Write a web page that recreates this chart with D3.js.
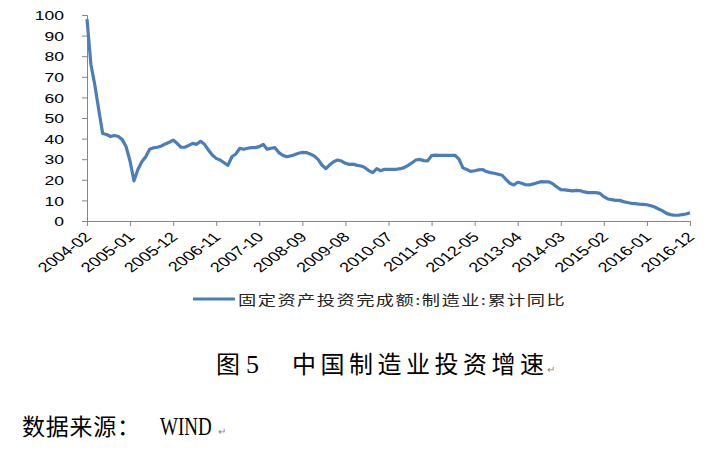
<!DOCTYPE html>
<html>
<head>
<meta charset="utf-8">
<script src="https://d3js.org/d3.v7.min.js"></script>
<style>
  body { margin: 0; background: #fff; }
</style>
</head>
<body>
<div id="my_dataviz"></div>
<script>
// 固定资产投资完成额:制造业:累计同比 (%), monthly 2004-02 .. 2016-12
var growth = [
    98, 76, 66, 54, 42.5, 42, 41, 41.5, 41, 39.5, 36, 29,
    19.5, 25, 28.8, 31.2, 34.8, 35.5, 35.8, 36.4, 37.4, 38.2, 39.3, 37.7,
    35.8, 35.8, 36.7, 37.7, 37.2, 38.7, 37.2, 34.5, 32, 30.4, 29.6, 28.3,
    27, 31.2, 32.5, 35.3, 34.8, 35.3, 35.6, 35.6, 36.1, 37.2, 34.8, 35.3,
    35.6, 33.2, 31.9, 31.2, 31.6, 32.2, 32.9, 33.3, 33.2, 32.5, 31.6, 29.9,
    27.2, 25.4, 27.3, 28.8, 29.6, 29.1, 28, 27.5, 27.6, 27, 26.7, 25.9,
    24.4, 23.5, 25.4, 24.4, 25.1, 25.1, 25.1, 25.1, 25.4, 25.9, 27, 28.3,
    29.6, 29.9, 29.3, 29.2, 31.7, 32, 31.9, 31.9, 31.9, 31.9, 31.9, 30,
    25.8, 25, 24.1, 24.4, 24.8, 25, 24, 23.5, 23.2, 22.7, 22.2, 20.2,
    18.3, 17.5, 18.8, 18.3, 17.6, 17.5, 18, 18.6, 19.1, 19, 19, 18,
    16.5, 15.2, 15.1, 14.9, 14.6, 14.9, 14.7, 14.1, 13.8, 13.8, 13.8, 13.4,
    11.8, 10.7, 10.4, 10, 10, 9.4, 9, 8.6, 8.4, 8.2, 8.1, 7.9,
    7.4, 6.8, 5.8, 4.9, 3.7, 3.1, 2.8, 2.8, 3.1, 3.4, 4.0
];

var tickLabels = ["2004-02", "2005-01", "2005-12", "2006-11", "2007-10", "2008-09",
    "2009-08", "2010-07", "2011-06", "2012-05", "2013-04", "2014-03",
    "2015-02", "2016-01", "2016-12"];

var yTicks = [0, 10, 20, 30, 40, 50, 60, 70, 80, 90, 100];

var seriesName = "固定资产投资完成额:制造业:累计同比";

// month labels for every point
var months = [];
for (var i = 0; i < growth.length; i++) {
    var m = 1 + i; // 2004-02 is index 0
    var yr = 2004 + Math.floor(m / 12);
    var mo = (m % 12) + 1;
    months.push(yr + "-" + (mo < 10 ? "0" + mo : mo));
}

var W = 716, H = 452;
var sx = 1.35; // chart picture is stretched sideways

var svg = d3.select("#my_dataviz")
    .append("svg")
    .attr("width", W)
    .attr("height", H);

// scales
var x = d3.scalePoint()
    .domain(months)
    .range([87, 690]);

var y = d3.scaleLinear()
    .domain([0, 100])
    .range([221, 15]);

var axisColor = "#868686";
var sans = "'Liberation Sans', Arial, sans-serif";
var serif = "'Liberation Serif', serif";
var cjk = "'Noto Sans CJK SC', sans-serif";

// Y axis
var yAxis = svg.append("g")
    .attr("transform", "translate(87,0)")
    .call(d3.axisLeft(y).tickValues(yTicks).tickSize(5).tickPadding(0));
yAxis.select(".domain").attr("stroke", axisColor);
yAxis.selectAll(".tick line").attr("stroke", axisColor);
yAxis.selectAll(".tick text")
    .attr("x", null)
    .attr("dy", null)
    .attr("dominant-baseline", "central")
    .attr("text-anchor", "end")
    .attr("font-family", sans)
    .attr("font-size", 13)
    .attr("fill", "#000")
    .attr("transform", "translate(-23,0) scale(" + sx + ",1)");

// X axis
var xAxis = svg.append("g")
    .attr("transform", "translate(0," + y(0) + ")")
    .call(d3.axisBottom(x)
        .tickValues(tickLabels)
        .tickSize(5)
        .tickSizeOuter(0));
xAxis.select(".domain").attr("stroke", axisColor);
xAxis.selectAll(".tick line").attr("stroke", axisColor);
xAxis.selectAll(".tick text")
    .attr("x", null)
    .attr("y", null)
    .attr("dy", null)
    .attr("text-anchor", "end")
    .attr("font-family", sans)
    .attr("font-size", 13.5)
    .attr("fill", "#000")
    .attr("transform", "translate(5,17) scale(" + sx + ",1) rotate(-45)");

// the line
var line = d3.line()
    .x(function (d, i) { return x(months[i]); })
    .y(function (d) { return y(d); });

svg.append("path")
    .datum(growth)
    .attr("fill", "none")
    .attr("stroke", "#4A7EBB")
    .attr("stroke-width", 3.2)
    .attr("stroke-linejoin", "round")
    .attr("d", line);

// legend
svg.append("line")
    .attr("x1", 193)
    .attr("x2", 235)
    .attr("y1", 299)
    .attr("y2", 299)
    .attr("stroke", "#4A7EBB")
    .attr("stroke-width", 3);

svg.append("text")
    .attr("transform", "translate(238,299) scale(" + sx + ",1)")
    .attr("dominant-baseline", "central")
    .attr("font-family", cjk)
    .attr("font-size", 13.5)
    .attr("fill", "#222")
    .attr("textLength", 242)
    .attr("lengthAdjust", "spacing")
    .text(seriesName);

// caption
var cap = svg.append("text")
    .attr("y", 373)
    .attr("font-family", cjk)
    .attr("font-size", 24)
    .attr("fill", "#000");
cap.append("tspan").attr("x", 216).text("图");
cap.append("tspan").attr("x", 246)
    .attr("font-family", serif)
    .attr("font-size", 26)
    .text("5");
cap.append("tspan").attr("x", 292)
    .attr("textLength", 252)
    .attr("lengthAdjust", "spacing")
    .text("中国制造业投资增速");

svg.append("text")
    .attr("x", 547)
    .attr("y", 373)
    .attr("font-family", cjk)
    .attr("font-size", 10)
    .attr("fill", "#888")
    .text("↵");

// source note
svg.append("text")
    .attr("x", 22)
    .attr("y", 435)
    .attr("font-family", cjk)
    .attr("font-size", 23)
    .attr("fill", "#000")
    .attr("textLength", 118)
    .attr("lengthAdjust", "spacing")
    .text("数据来源：");

svg.append("text")
    .attr("transform", "translate(160,435) scale(0.76,1)")
    .attr("font-family", serif)
    .attr("font-size", 25)
    .attr("fill", "#000")
    .text("WIND");

svg.append("text")
    .attr("x", 218)
    .attr("y", 435)
    .attr("font-family", cjk)
    .attr("font-size", 10)
    .attr("fill", "#888")
    .text("↵");
</script>
</body>
</html>
